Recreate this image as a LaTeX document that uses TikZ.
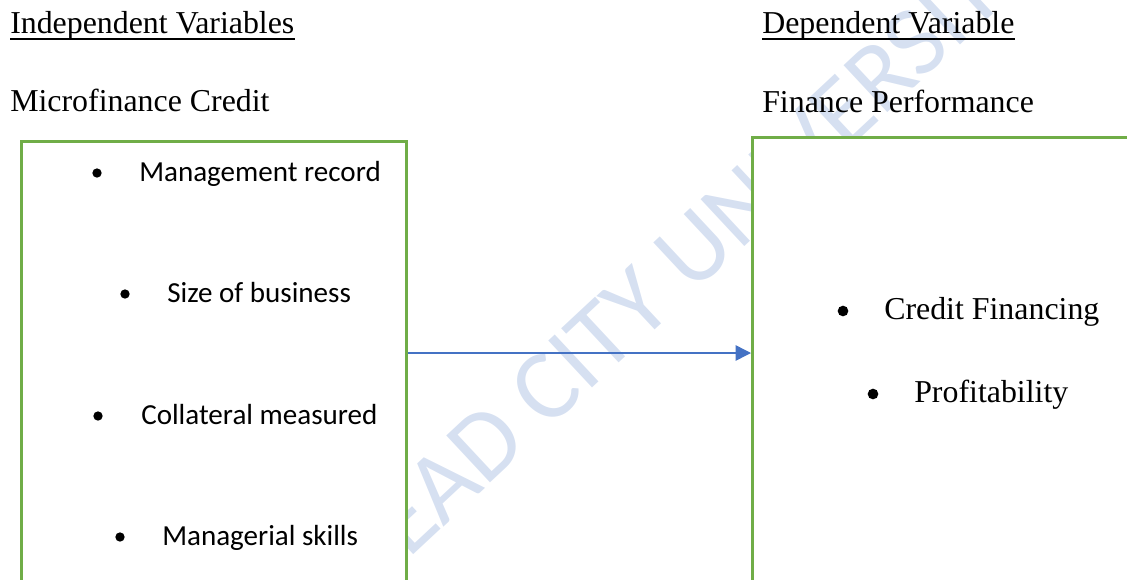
\documentclass[tikz,border=0pt]{standalone}
\usepackage{fontspec}
\setmainfont{Liberation Serif}
\newfontfamily\calibri{Carlito}
\usetikzlibrary{arrows.meta}
\definecolor{boxgreen}{RGB}{112,173,71}
\definecolor{arrowblue}{RGB}{68,114,196}
\definecolor{markblue}{RGB}{214,224,241}
\tikzset{
	varbox/.style={draw=boxgreen, line width=2.2pt, fill=white, inner sep=0pt, anchor=north west},
	heading/.style={anchor=base west, inner sep=0pt, font=\fontsize{23.9}{28}\selectfont},
	leftitem/.style={anchor=base west, inner sep=0pt, font=\calibri\fontsize{21.8}{26}\selectfont},
	rightitem/.style={heading},
	bullet/.style={circle, fill=black, inner sep=0pt, minimum size=#1},
	uline/.style={line width=1pt},
	flow/.style={draw=arrowblue, line width=1.1pt, -{Triangle[length=11.5pt,width=11.5pt]}},
	watermark/.style={text=markblue, inner sep=0pt, font=\calibri\fontsize{75}{75}\selectfont}
}
\begin{document}
\begin{tikzpicture}[x=0.75pt, y=-0.75pt]
		\clip (0,0) rectangle (1127,579);
		%draw watermark
		\node[watermark, rotate=43] (wm) at (689,254) {LEAD CITY UNIVERSITY};
		%draw boxes
		\node[varbox, minimum width=288.75pt, minimum height=345pt] (credit) at (20,140) {};
		\node[varbox, minimum width=291pt, minimum height=348pt] (perf) at (751,136) {};
		%draw arrow
		\coordinate (level) at (0,353);
		\draw[flow] (credit.east |- level) -- (perf.west |- level);
		%draw headings
		\node[heading] (indep) at (10,33) {Independent Variables};
		\draw[uline] ([yshift=-4.5pt]indep.base west) -- ([yshift=-4.5pt]indep.base east);
		\node[heading] (dep) at (762,33) {Dependent Variable};
		\draw[uline] ([yshift=-4.5pt]dep.base west) -- ([yshift=-4.5pt]dep.base east);
		\node[heading] (micro) at (10,111) {Microfinance Credit};
		\node[heading] (fin) at (762,112) {Finance Performance};
		%draw left items
		\node[leftitem] (record) at (139,181) {Management record};
		\node[bullet=7pt] (brecord) at ([shift={(-42,-8)}]record.base west) {};
		\node[leftitem] (size) at (167,302) {Size of business};
		\node[bullet=7pt] (bsize) at ([shift={(-42,-8)}]size.base west) {};
		\node[leftitem] (collat) at (141,424) {Collateral measured};
		\node[bullet=7pt] (bcollat) at ([shift={(-43,-8)}]collat.base west) {};
		\node[leftitem] (skills) at (162,545) {Managerial skills};
		\node[bullet=7pt] (bskills) at ([shift={(-42,-8)}]skills.base west) {};
		%draw right items
		\node[rightitem] (financing) at (884,319) {Credit Financing};
		\node[bullet=8pt] (bfinancing) at ([shift={(-41,-8)}]financing.base west) {};
		\node[rightitem] (profit) at (914,402) {Profitability};
		\node[bullet=8pt] (bprofit) at ([shift={(-41,-8)}]profit.base west) {};
	\end{tikzpicture}
\end{document}
